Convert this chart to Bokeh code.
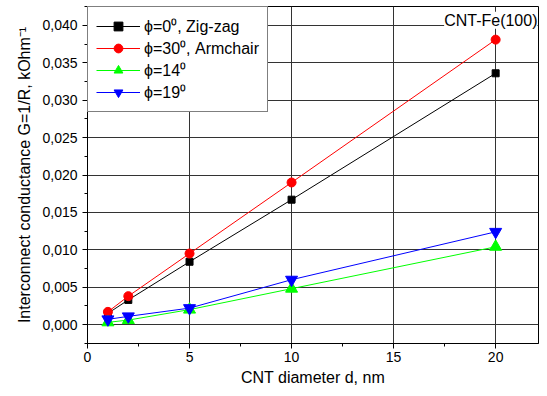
from bokeh.plotting import figure
from bokeh.models import Range1d, CustomJSTickFormatter, Label, SingleIntervalTicker
from bokeh.embed import file_html
from bokeh.resources import INLINE

# Data
d = [1, 2, 5, 10, 20]
g_zigzag = [0.0015, 0.0033, 0.0084, 0.0167, 0.0336]
g_armchair = [0.0017, 0.0038, 0.0095, 0.0190, 0.0381]
g_14 = [0.0003, 0.0006, 0.0020, 0.0048, 0.0104]
g_19 = [0.0007, 0.0011, 0.0022, 0.0060, 0.0124]

labels = ["\u03d5=0\u2070, Zig-zag", "\u03d5=30\u2070, Armchair", "\u03d5=14\u2070", "\u03d5=19\u2070"]

FONT = "Liberation Sans"

p = figure(width=539, height=388, output_backend="svg", toolbar_location=None,
           x_range=Range1d(0, 22.1), y_range=Range1d(-0.00253, 0.04253),
           min_border_left=87, min_border_right=1, min_border_top=6, min_border_bottom=44)

p.outline_line_color = "black"
p.outline_line_width = 1
p.background_fill_color = "white"
p.border_fill_color = "white"

p.xaxis.ticker = SingleIntervalTicker(interval=5, num_minor_ticks=2)
p.yaxis.ticker = SingleIntervalTicker(interval=0.005, num_minor_ticks=2)
p.xaxis.formatter = CustomJSTickFormatter(code="return tick.toFixed(0);")
p.yaxis.formatter = CustomJSTickFormatter(code="return tick.toFixed(3).replace('.', ',');")

for ax in (p.xaxis[0], p.yaxis[0]):
    ax.axis_line_color = "black"
    ax.major_tick_line_color = "black"
    ax.minor_tick_line_color = "black"
    ax.major_tick_out = 5
    ax.major_tick_in = 0
    ax.minor_tick_out = 3
    ax.minor_tick_in = 0
    ax.major_label_text_font = FONT
    ax.major_label_text_font_size = "14px"
    ax.major_label_text_color = "black"
    ax.axis_label_text_font = FONT
    ax.axis_label_text_font_size = "16px"
    ax.axis_label_text_font_style = "normal"
    ax.axis_label_text_color = "black"

p.xaxis.axis_label = "CNT diameter d, nm"
p.yaxis.axis_label = "Interconnect conductance G=1/R, kOhm\u207b\u00b9"
p.xaxis.major_label_standoff = 3
p.yaxis.major_label_standoff = 5
p.xaxis.axis_label_standoff = 4
p.yaxis.axis_label_standoff = 6

p.grid.grid_line_color = "#333333"
p.grid.grid_line_width = 1
p.grid.grid_line_alpha = 1.0

series = [
    (g_zigzag, "black", "square", 7),
    (g_armchair, "red", "circle", 9),
    (g_14, "#00ff00", "triangle", 12),
    (g_19, "blue", "inverted_triangle", 12),
]

for (vals, col, mk, sz), lab in zip(series, labels):
    p.line(d, vals, line_color=col, line_width=1, legend_label=lab)
    p.scatter(d, vals, marker=mk, size=sz, fill_color=col, line_color=col, legend_label=lab)

lg = p.legend[0]
lg.location = "top_left"
lg.margin = 0
lg.padding = 8
lg.spacing = 0
lg.border_line_color = "black"
lg.border_line_width = 1
lg.background_fill_color = "white"
lg.background_fill_alpha = 1.0
lg.label_text_font = FONT
lg.label_text_font_size = "16px"
lg.label_text_color = "black"
lg.glyph_width = 44
lg.glyph_height = 22
lg.label_height = 22
lg.label_standoff = 4

lbl = Label(x=22.05, y=0.0407, text="CNT-Fe(100)", text_align="right", text_baseline="middle",
            text_font=FONT, text_font_size="16px", text_color="black",
            background_fill_color="white", background_fill_alpha=1.0)
p.add_layout(lbl)

open("out.html", "w").write(file_html(p, INLINE))
